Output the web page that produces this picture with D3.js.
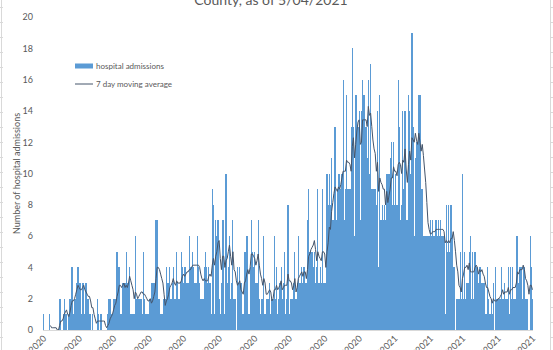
<!DOCTYPE html>
<html>
<head>
<meta charset="utf-8">
<script src="https://cdn.jsdelivr.net/npm/d3@7"></script>
<style>
  body { margin: 0; background: #ffffff; }
  svg { display: block; font-family: Lato, "Open Sans", sans-serif; }
</style>
</head>
<body>
<div id="chart"></div>
<script>
// daily hospital admissions, one value per day starting 3/04/2020
var startDate = "3/04/2020";
var admissions = [
    1,0,0,0,0,1,0,0,0,0,0,0,0,0,
    2,2,0,1,2,1,1,0,1,2,4,4,1,2,
    2,3,4,3,3,1,3,3,1,3,2,2,1,1,
    0,1,0,0,0,2,1,0,1,0,0,0,0,0,
    1,2,2,1,1,2,2,2,5,4,4,1,1,3,
    3,3,5,3,3,4,1,1,1,1,6,2,2,2,
    2,2,1,5,2,1,1,1,2,2,3,3,3,3,
    7,7,2,2,1,1,1,2,2,4,3,3,4,2,
    3,4,2,2,5,3,2,3,5,4,3,4,4,3,
    3,6,4,4,5,4,3,3,6,4,3,2,2,2,
    4,5,4,3,4,3,1,9,8,1,7,6,7,2,
    1,3,7,7,1,10,3,4,6,2,3,7,2,2,
    0,4,3,4,3,1,1,5,5,6,6,1,4,7,
    5,4,5,3,3,7,2,1,2,2,6,1,2,2,
    2,3,1,2,2,6,2,4,1,2,3,4,2,3,
    5,1,2,8,1,2,2,2,3,5,2,3,6,3,
    3,4,3,4,3,3,7,9,5,5,5,4,5,3,
    4,9,3,4,3,9,3,3,3,10,8,10,8,11,
    7,7,13,7,9,10,10,9,10,16,7,9,15,9,
    9,9,13,18,13,6,15,15,13,14,7,14,16,15,
    15,13,11,16,10,17,9,9,9,9,8,14,4,15,
    7,8,7,8,7,10,10,10,11,12,8,12,8,10,
    8,16,13,7,8,14,9,14,7,7,15,14,10,19,
    13,6,11,12,12,15,15,9,9,6,6,6,6,6,
    6,7,6,7,6,6,7,6,7,6,7,6,6,6,
    1,8,5,8,5,8,6,4,4,0,2,2,2,5,
    2,10,2,5,2,3,3,5,6,2,5,2,5,4,
    4,3,4,4,3,3,3,1,1,4,2,1,2,1,
    3,0,4,2,2,2,2,4,2,2,3,2,2,4,
    1,4,2,4,2,2,6,6,3,4,4,2,4,4,
    2,2,2,0,6,4,2
];
var xTickLabels = ["3/04/2020","4/04/2020","5/04/2020","6/04/2020","7/04/2020",
                   "8/04/2020","9/04/2020","10/04/2020","11/04/2020","12/04/2020",
                   "1/04/2021","2/04/2021","3/04/2021","4/04/2021","5/04/2021"];
var yTicks = [0, 2, 4, 6, 8, 10, 12, 14, 16, 18, 20];
var maPeriod = 7;
var titleText = "County, as of 5/04/2021";
var legendLabels = ["hospital admissions", "7 day moving average"];

window.onload = function() {
    var w = 553;
    var h = 350;
    var left = 43, right = 533, top = 17, bottom = 330;
    var textColor = "#595959";

    var parse = d3.timeParse("%m/%d/%Y");
    var fmt = d3.timeFormat("%-m/%d/%Y");
    var start = parse(startDate);

    // one record per day
    var data = admissions.map(function(v, i) {
        return { date: d3.timeDay.offset(start, i), value: v };
    });

    // 7 day trailing average, like the excel trendline
    var avg = [];
    for (var i = maPeriod - 1; i < data.length; i++) {
        var sum = 0;
        for (var j = i - maPeriod + 1; j <= i; j++) {
            sum = sum + data[j].value;
        }
        avg.push({ date: data[i].date, value: sum / maPeriod });
    }

    var svg = d3.select("#chart")
                .append("svg")
                .attr("width", w)
                .attr("height", h);

    // spreadsheet cell lines showing round the chart
    svg.append("line")
       .attr("x1", 1.5).attr("x2", 1.5).attr("y1", 0).attr("y2", h)
       .attr("stroke", "#d9d9d9");
    svg.append("line")
       .attr("x1", 550.5).attr("x2", 550.5).attr("y1", 0).attr("y2", h)
       .attr("stroke", "#d9d9d9");
    for (var r = 7.5; r < h; r += 15) {
        svg.append("line").attr("x1", 0).attr("x2", 3).attr("y1", r).attr("y2", r)
           .attr("stroke", "#d9d9d9");
        svg.append("line").attr("x1", 550).attr("x2", 553).attr("y1", r).attr("y2", r)
           .attr("stroke", "#d9d9d9");
    }

    var halfDay = 12 * 3600 * 1000;
    var xScale = d3.scaleTime()
                   .domain([new Date(start.getTime() - halfDay),
                            new Date(data[data.length - 1].date.getTime() + halfDay)])
                   .range([left, right]);

    var yScale = d3.scaleLinear()
                   .domain([0, 20])
                   .range([bottom, top]);

    var step = xScale(d3.timeDay.offset(start, 1)) - xScale(start);

    // bars
    svg.append("g")
       .selectAll("rect")
       .data(data)
       .enter()
       .append("rect")
       .attr("x", function(d) { return xScale(d.date) - step / 2; })
       .attr("y", function(d) { return yScale(d.value); })
       .attr("width", step)
       .attr("height", function(d) { return bottom - yScale(d.value); })
       .attr("fill", "#5b9bd5")
       .attr("shape-rendering", "crispEdges");

    // moving average line
    var line = d3.line()
                 .x(function(d) { return xScale(d.date); })
                 .y(function(d) { return yScale(d.value); });

    svg.append("path")
       .datum(avg)
       .attr("d", line)
       .attr("fill", "none")
       .attr("stroke", "#44546a")
       .attr("stroke-width", 1);

    // y axis
    var yAxis = svg.append("g")
                   .attr("transform", "translate(" + (left - 10) + ",0)")
                   .call(d3.axisLeft(yScale).tickValues(yTicks).tickSize(0).tickPadding(0));
    yAxis.select(".domain").remove();
    yAxis.selectAll("text")
         .attr("fill", textColor)
         .style("font-size", "9px")
         .style("font-family", "Lato, sans-serif");

    // x axis
    var xAxis = svg.append("g")
                   .attr("transform", "translate(0," + bottom + ")")
                   .call(d3.axisBottom(xScale)
                           .tickValues(xTickLabels.map(parse))
                           .tickFormat(fmt)
                           .tickSize(0));
    xAxis.select(".domain")
         .attr("stroke", "#d9d9d9")
         .attr("d", "M" + left + ",0.5H" + right);
    xAxis.selectAll("text")
         .attr("fill", textColor)
         .style("font-size", "9px")
         .style("font-family", "Lato, sans-serif")
         .attr("text-anchor", "end")
         .attr("dy", null)
         .attr("y", 0)
         .attr("transform", "translate(3,9) rotate(-45)");

    // y axis title
    svg.append("text")
       .attr("transform", "translate(20," + ((top + bottom) / 2) + ") rotate(-90)")
       .attr("text-anchor", "middle")
       .attr("fill", textColor)
       .style("font-size", "9px")
       .text("Number of hospital admissions");

    // title, upper line falls off the top
    svg.append("text")
       .attr("x", 271)
       .attr("y", 5)
       .attr("text-anchor", "middle")
       .attr("fill", textColor)
       .style("font-size", "14px")
       .text(titleText);

    // legend
    var legend = svg.append("g").attr("transform", "translate(75,66)");
    legend.append("rect")
          .attr("x", 0).attr("y", -2.5).attr("width", 18).attr("height", 5)
          .attr("fill", "#5b9bd5");
    legend.append("line")
          .attr("x1", 0).attr("x2", 18).attr("y1", 18).attr("y2", 18)
          .attr("stroke", "#44546a").attr("stroke-width", 1);
    legend.selectAll("text.leg")
          .data(legendLabels)
          .enter()
          .append("text")
          .attr("class", "leg")
          .attr("x", 21)
          .attr("y", function(d, i) { return i * 18; })
          .attr("dy", "0.35em")
          .attr("fill", textColor)
          .style("font-size", "8px")
          .text(function(d) { return d; });
};
</script>
</body>
</html>
